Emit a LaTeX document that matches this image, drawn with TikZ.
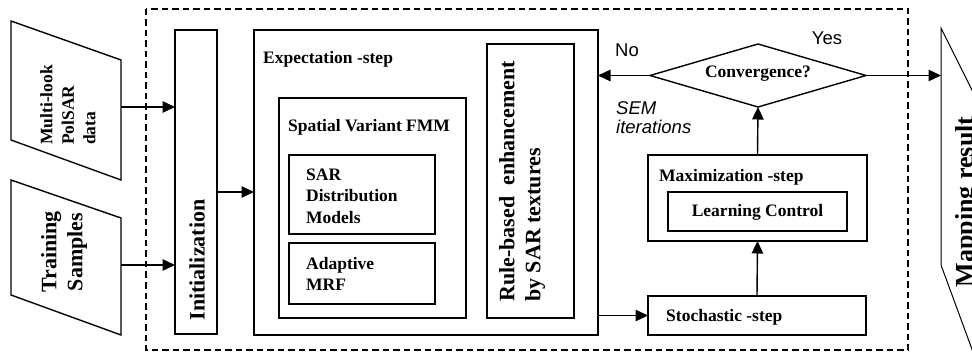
\documentclass[tikz,border=0pt]{standalone}
\usepackage{fontspec}
\setmainfont{Liberation Serif}
\newfontfamily\arialfont{Liberation Sans}
\usetikzlibrary{arrows.meta,shapes.geometric}
\tikzset{
  box/.style={draw, line width=1.4pt, inner sep=0pt, outer sep=0pt},
  lbl/.style={font=\fontsize{17.5}{21.5}\selectfont\bfseries, inner sep=0pt},
  big/.style={font=\fontsize{22}{26}\selectfont\bfseries, inner sep=0pt},
  sans/.style={font=\fontsize{18.5}{19}\selectfont\arialfont, inner sep=0pt},
  arr/.style={line width=1.4pt, -{Triangle[length=12.5pt,width=11.5pt]}},
  shp/.style={line width=1.4pt, line join=miter},
}
\begin{document}
\begin{tikzpicture}[x=1pt,y=-1pt]
\useasboundingbox (0,0) rectangle (972,358);
% input shapes
\draw[shp] (11,21) -- (121,60) -- (121,180) -- (11,140) -- cycle;
\draw[shp] (11,180) -- (121,218) -- (121,335) -- (11,295) -- cycle;
\node[lbl, rotate=90, anchor=west, align=left] (mltxt) at (68,145) {Multi-look\\PolSAR\\data};
\node[big, rotate=90, align=center] (tstxt) at (64,252) {Training\\Samples};
\coordinate (mlout) at (121,107);
\coordinate (tsout) at (121,265);
% dashed frame
\draw[line width=1.2pt, dash pattern=on 6.5pt off 4pt] (146,9) rectangle (908,350);
% initialization
\node[box, minimum width=42, minimum height=304] (init) at (196,182) {};
\node[big, rotate=90] (inittxt) at (197,260) {Initialization};
% E-step
\node[box, minimum width=344, minimum height=305] (estep) at (426,182.5) {};
\node[lbl, anchor=west] (etxt) at (263,59) {Expectation -step};
\node[box, minimum width=187, minimum height=220] (svf) at (372.5,208) {};
\node[lbl, anchor=west] (svftxt) at (288,127) {Spatial Variant FMM};
\node[box, minimum width=146, minimum height=79] (sar) at (362,194.5) {};
\node[lbl, anchor=west, align=left] (sartxt) at (306,196) {SAR\\Distribution\\Models};
\node[box, minimum width=146, minimum height=61] (mrf) at (362,273.5) {};
\node[lbl, anchor=west, align=left] (mrftxt) at (306,274) {Adaptive\\MRF};
\node[box, minimum width=87, minimum height=274] (rule) at (530.5,181) {};
\node[big, rotate=90, anchor=west, align=left] (ruletxt) at (522,302) {Rule-based\ \ enhancement\\by SAR textures};
% convergence
\node[draw, shape=diamond, line width=1.4pt, aspect=3.4, minimum width=216, minimum height=63, inner sep=0pt, outer sep=0pt] (conv) at (758,75.5) {};
\node[lbl] (convtxt) at (758,74) {Convergence?};
\node[sans] (notxt) at (627,50) {No};
\node[sans] (yestxt) at (827,38) {Yes};
\node[sans, anchor=west, align=left, font=\fontsize{18.5}{19}\selectfont\arialfont\itshape] (semtxt) at (616,118) {SEM\\iterations};
% M-step
\node[box, minimum width=219, minimum height=86] (mstep) at (757.5,198) {};
\node[lbl, anchor=west] (mtxt) at (659,177) {Maximization -step};
\node[box, minimum width=179, minimum height=39] (lc) at (757.5,211.5) {};
\node[lbl] (lctxt) at (757.5,212.5) {Learning Control};
% S-step
\node[box, minimum width=218, minimum height=39] (sstep) at (757,315.5) {};
\node[lbl, anchor=west] (stxt) at (666,317) {Stochastic -step};
% mapping result
\begin{scope}
\clip (0,0) rectangle (972,358);
\draw[line width=1pt] (975,96) -- (941,28) -- (941,265) -- (973,352);
\node[font=\fontsize{26}{30}\selectfont\bfseries, inner sep=0pt, rotate=90] (maptxt) at (967,202) {Mapping result};
\end{scope}
\coordinate (mapin) at (941,76);
% connectors
\draw[arr] (mlout) -- (mlout -| init.west);
\draw[arr] (tsout) -- (tsout -| init.west);
\draw[arr] ([yshift=-10pt]init.east) -- ([yshift=-10pt]init.east -| estep.west);
\draw[arr] (conv.west) -- (conv.west -| estep.east);
\draw[arr] (conv.east) -- (conv.east -| mapin);
\draw[arr] (mstep.north) -- (conv.south);
\draw[arr] (sstep.north) -- (mstep.south);
\draw[arr] (estep.east |- sstep.west) -- (sstep.west);
\end{tikzpicture}
\end{document}
